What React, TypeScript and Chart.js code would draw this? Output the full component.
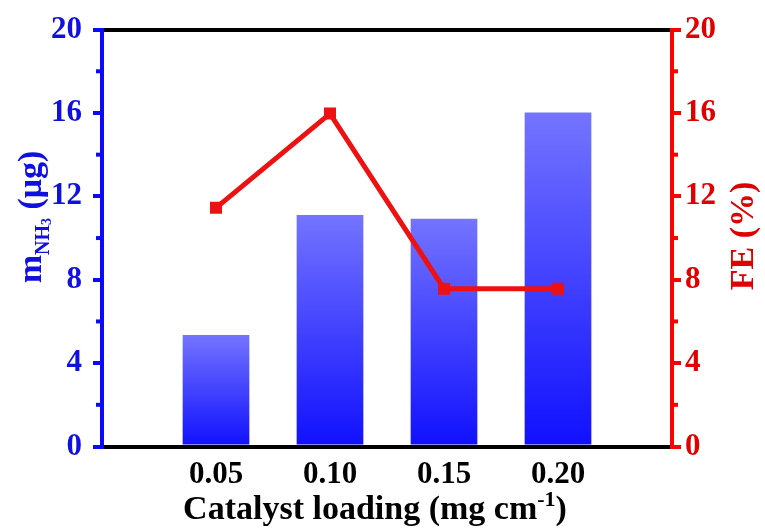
import React, { useEffect, useRef } from 'react';
import { Chart, registerables } from 'chart.js';

Chart.register(...registerables);

// ---- data ----
const loadings = [0.05, 0.1, 0.15, 0.2];
const massNH3 = [5.35, 11.1, 10.92, 16.02];
const faradaicEfficiency = [11.45, 15.97, 7.57, 7.57];
const yTicks = [0, 4, 8, 12, 16, 20];
const yMinorTicks = [2, 6, 10, 14, 18];

// ---- style ----
const FONT = "'Liberation Serif', 'Times New Roman', serif";
const BLUE = '#0a0aff';
const BLUE_TEXT = '#1010e0';
const RED = '#ff0000';
const RED_TEXT = '#e00000';
const LINE_RED = '#ee1111';

type Seg = { text: string; size: number; dy: number };

function drawRich(
  ctx: CanvasRenderingContext2D,
  segs: Seg[],
  color: string,
  x: number,
  y: number,
  rotate: boolean
) {
  ctx.save();
  ctx.translate(x, y);
  if (rotate) ctx.rotate(-Math.PI / 2);
  ctx.fillStyle = color;
  ctx.textBaseline = 'alphabetic';
  ctx.textAlign = 'left';
  const widths = segs.map((s) => {
    ctx.font = `bold ${s.size}px ${FONT}`;
    return ctx.measureText(s.text).width;
  });
  const total = widths.reduce((a, b) => a + b, 0);
  let cx = -total / 2;
  segs.forEach((s, i) => {
    ctx.font = `bold ${s.size}px ${FONT}`;
    ctx.fillText(s.text, cx, s.dy);
    cx += widths[i];
  });
  ctx.restore();
}

const minorTicksPlugin = {
  id: 'minorTicks',
  afterDraw(chart: any) {
    const { ctx, chartArea, scales } = chart;
    ctx.save();
    ctx.lineWidth = 4;
    ctx.strokeStyle = BLUE;
    yMinorTicks.forEach((v) => {
      const y = scales.y.getPixelForValue(v);
      ctx.beginPath();
      ctx.moveTo(chartArea.left - 6, y);
      ctx.lineTo(chartArea.left, y);
      ctx.stroke();
    });
    ctx.strokeStyle = RED;
    yMinorTicks.forEach((v) => {
      const y = scales.y1.getPixelForValue(v);
      ctx.beginPath();
      ctx.moveTo(chartArea.right, y);
      ctx.lineTo(chartArea.right + 6, y);
      ctx.stroke();
    });
    ctx.restore();
  },
};

const titlesPlugin = {
  id: 'richTitles',
  afterDraw(chart: any) {
    const ctx = chart.ctx as CanvasRenderingContext2D;
    drawRich(
      ctx,
      [
        { text: 'Catalyst loading (mg cm', size: 34, dy: 0 },
        { text: '-1', size: 22, dy: -13 },
        { text: ')', size: 34, dy: 0 },
      ],
      '#000000',
      375,
      519,
      false
    );
    drawRich(
      ctx,
      [
        { text: 'm', size: 34, dy: 0 },
        { text: 'NH', size: 20, dy: 8 },
        { text: '3', size: 14, dy: 10 },
        { text: ' (μg)', size: 34, dy: 0 },
      ],
      BLUE_TEXT,
      41,
      217,
      true
    );
    drawRich(ctx, [{ text: 'FE (%)', size: 34, dy: 0 }], RED_TEXT, 753, 236, true);
  },
};

export default function App() {
  const ref = useRef<HTMLCanvasElement | null>(null);

  useEffect(() => {
    document.body.style.margin = '0';
    const canvas = ref.current;
    if (!canvas) return;

    const tickFont = { family: FONT, size: 31, weight: 'bold' as const };

    const chart = new Chart(canvas, {
      type: 'bar',
      data: {
        datasets: [
          {
            type: 'line',
            label: 'FE',
            data: loadings.map((x, i) => ({ x, y: faradaicEfficiency[i] })),
            xAxisID: 'x',
            yAxisID: 'y1',
            borderColor: LINE_RED,
            backgroundColor: LINE_RED,
            borderWidth: 5,
            pointStyle: 'rect',
            pointRadius: 8.5,
            pointHoverRadius: 8.5,
            pointBorderWidth: 0,
            tension: 0,
            order: 0,
          } as any,
          {
            type: 'bar',
            label: 'mNH3',
            data: loadings.map((x, i) => ({ x, y: massNH3[i] })),
            xAxisID: 'x',
            yAxisID: 'y',
            borderWidth: 0,
            categoryPercentage: 0.585,
            barPercentage: 1,
            order: 1,
            backgroundColor: (c: any) => {
              const ch = c.chart;
              if (!ch.chartArea || c.type !== 'data' || !c.raw) return '#5050ff';
              const yTop = ch.scales.y.getPixelForValue(c.raw.y);
              const yBot = ch.scales.y.getPixelForValue(0);
              const g = ch.ctx.createLinearGradient(0, yBot, 0, yTop);
              g.addColorStop(0, '#1010ff');
              g.addColorStop(1, '#7474ff');
              return g;
            },
          } as any,
        ],
      },
      options: {
        animation: false,
        responsive: false,
        maintainAspectRatio: false,
        events: [],
        layout: { padding: 0 },
        plugins: {
          legend: { display: false },
          tooltip: { enabled: false },
        },
        scales: {
          x: {
            type: 'linear',
            position: 'bottom',
            min: 0,
            max: 0.25,
            offset: false,
            z: 1,
            afterBuildTicks: (s: any) => {
              s.ticks = loadings.map((v) => ({ value: v }));
            },
            afterFit: (s: any) => {
              s.height = 82.5;
            },
            grid: { display: false, drawTicks: false },
            border: { display: true, color: '#000000', width: 4 },
            ticks: {
              color: '#000000',
              font: tickFont,
              padding: 10,
              autoSkip: false,
              maxRotation: 0,
              callback: (v: any) => Number(v).toFixed(2),
            },
          },
          xTop: {
            type: 'linear',
            position: 'top',
            min: 0,
            max: 1,
            afterFit: (s: any) => {
              s.height = 26.5;
            },
            grid: { display: false, drawTicks: false },
            border: { display: true, color: '#000000', width: 4 },
            ticks: { display: false },
          },
          y: {
            type: 'linear',
            position: 'left',
            min: 0,
            max: 20,
            afterBuildTicks: (s: any) => {
              s.ticks = yTicks.map((v) => ({ value: v }));
            },
            afterFit: (s: any) => {
              s.width = 102;
            },
            grid: { drawOnChartArea: false, tickLength: 9, color: BLUE, lineWidth: 4 },
            border: { display: true, color: BLUE, width: 4 },
            ticks: { color: BLUE_TEXT, font: tickFont, padding: 11 },
          },
          y1: {
            type: 'linear',
            position: 'right',
            min: 0,
            max: 20,
            afterBuildTicks: (s: any) => {
              s.ticks = yTicks.map((v) => ({ value: v }));
            },
            afterFit: (s: any) => {
              s.width = 93;
            },
            grid: { drawOnChartArea: false, tickLength: 9, color: RED, lineWidth: 4 },
            border: { display: true, color: RED, width: 4 },
            ticks: { color: RED_TEXT, font: tickFont, padding: 4 },
          },
        },
      } as any,
      plugins: [minorTicksPlugin, titlesPlugin],
    });

    return () => chart.destroy();
  }, []);

  return (
    <div style={{ width: 765, height: 529 }}>
      <canvas ref={ref} width={765} height={529} style={{ display: 'block', width: 765, height: 529 }} />
    </div>
  );
}
